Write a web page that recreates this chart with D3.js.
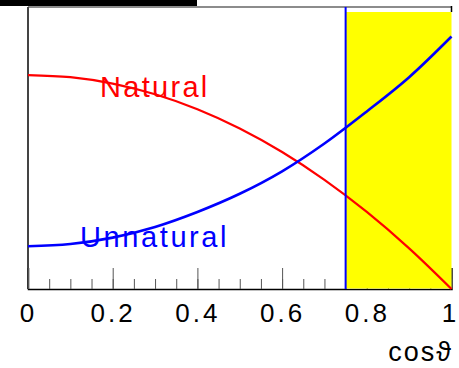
<!DOCTYPE html>
<html>
<head>
<meta charset="utf-8">
<script src="https://cdn.jsdelivr.net/npm/d3@7"></script>
<style>
  body { margin: 0; background: #fff; }
  svg { display: block; font-family: "Liberation Sans", Arial, sans-serif; }
</style>
</head>
<body>
<svg id="chart"></svg>
<script>
const cosTheta = [0, 0.1, 0.2, 0.3, 0.4, 0.5, 0.6, 0.7, 0.8, 0.9, 1.0]
const natural = [1.0, 0.99, 0.96, 0.91, 0.84, 0.75, 0.64, 0.51, 0.36, 0.19, 0.0]
const unnatural = [0.2, 0.21, 0.24, 0.29, 0.36, 0.445, 0.55, 0.68, 0.83, 0.99, 1.18]
const majorTicks = [0, 0.2, 0.4, 0.6, 0.8, 1]
const minorTicks = d3.range(0, 1.0001, 0.05)
const cutValue = 0.75

const width = 459
const height = 368
const margin = { top: 7, right: 8, bottom: 79, left: 28 }

const svg = d3.select('#chart').attr('width', width).attr('height', height)

const x = d3.scaleLinear().domain([0, 1]).range([margin.left, width - margin.right + 0.5])
const y = d3.scaleLinear().domain([0, 1.318]).range([height - margin.bottom, margin.top])

// black strip on top
svg.append('rect').attr('x', 0).attr('y', 0).attr('width', 197).attr('height', 6).attr('fill', '#000')

// frame: top and left
svg.append('line')
    .attr('x1', x(0)).attr('x2', x(1))
    .attr('y1', margin.top).attr('y2', margin.top)
    .attr('stroke', '#666').attr('stroke-width', 1.5)
svg.append('line')
    .attr('x1', x(0)).attr('x2', x(0))
    .attr('y1', margin.top).attr('y2', y(0))
    .attr('stroke', '#444').attr('stroke-width', 2)
svg.append('line')
    .attr('x1', x(1)).attr('x2', x(1))
    .attr('y1', 6).attr('y2', 12)
    .attr('stroke', '#000').attr('stroke-width', 1.5)

// x axis, ticks pointing up
const xAxis = svg.append('g')
    .attr('transform', `translate(0,${y(0)})`)
    .call(d3.axisBottom(x).tickValues(majorTicks).tickSize(-21).tickPadding(15)
        .tickFormat((d) => d3.format('~g')(d)))
xAxis.select('.domain').attr('stroke', '#000').attr('stroke-width', 1.5)
xAxis.selectAll('.tick line').attr('stroke', '#555')
xAxis.selectAll('text')
    .attr('font-size', 26)
    .attr('fill', '#000')
    .style('letter-spacing', (d) => (d === 1 ? '0px' : '3px'))
    .attr('dx', (d) => (d === 1 ? -3 : 0))

svg.append('g')
    .attr('transform', `translate(0,${y(0)})`)
    .call(d3.axisBottom(x).tickValues(minorTicks).tickSize(-10).tickFormat(''))
    .call((g) => g.select('.domain').remove())
    .selectAll('.tick line').attr('stroke', '#555')

// yellow accepted region, drawn over the ticks
svg.append('rect')
    .attr('x', x(cutValue))
    .attr('y', 12)
    .attr('width', x(1) - x(cutValue))
    .attr('height', y(0) - 12.5)
    .attr('fill', '#ffff00')

const line = d3.line()
    .x((d, i) => x(cosTheta[i]))
    .y((d) => y(d))
    .curve(d3.curveCatmullRom)

svg.append('path')
    .datum(natural)
    .attr('fill', 'none')
    .attr('stroke', '#ff0000')
    .attr('stroke-width', 2.2)
    .attr('d', line)

svg.append('path')
    .datum(unnatural)
    .attr('fill', 'none')
    .attr('stroke', '#0000ff')
    .attr('stroke-width', 2.6)
    .attr('d', line)

// cut line
svg.append('line')
    .attr('x1', x(cutValue)).attr('x2', x(cutValue))
    .attr('y1', margin.top).attr('y2', y(0))
    .attr('stroke', '#0000ff').attr('stroke-width', 2)

svg.append('text')
    .attr('x', 453)
    .attr('y', 361)
    .attr('text-anchor', 'end')
    .attr('font-size', 27)
    .style('letter-spacing', '2px')
    .text('cosϑ')

svg.append('text')
    .attr('x', 100)
    .attr('y', 97)
    .attr('font-size', 29)
    .attr('fill', '#ff0000')
    .style('letter-spacing', '2.3px')
    .text('Natural')

svg.append('text')
    .attr('x', 80)
    .attr('y', 247)
    .attr('font-size', 29)
    .attr('fill', '#0000ff')
    .style('letter-spacing', '2.6px')
    .text('Unnatural')
</script>
</body>
</html>
